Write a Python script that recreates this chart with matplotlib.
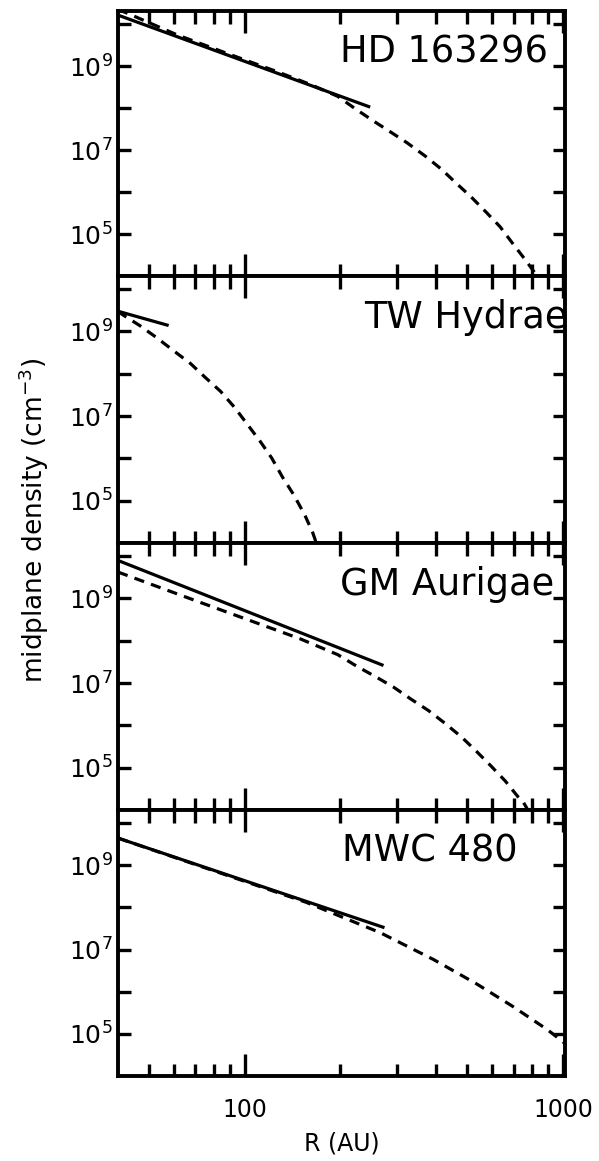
import numpy as np
import matplotlib
matplotlib.use("Agg")
import matplotlib.pyplot as plt

# radius (AU) and midplane density (cm^-3)
names = ["HD 163296", "TW Hydrae", "GM Aurigae", "MWC 480"]

hd_solid_r = [40, 248]
hd_solid_n = [1.63e10, 1.05e8]
hd_dash_r = [40, 42.7, 61.4, 88, 126, 160, 196, 223, 254, 287, 324, 369, 415,
             462, 515, 574, 635, 697, 766, 817, 832]
hd_dash_n = [2.2e10, 1.82e10, 5.5e9, 2.0e9, 7.4e8, 3.7e8, 1.9e8, 9.5e7, 4.9e7,
             2.7e7, 1.48e7, 7.2e6, 3.5e6, 1.62e6, 7.6e5, 3.3e5, 1.48e5, 5.8e4,
             2.3e4, 1.17e4, 1.0e4]

tw_solid_r = [40, 57.7]
tw_solid_n = [3.0e9, 1.38e9]
tw_dash_r = [40, 41.3, 46.8, 52.8, 59.8, 67.6, 75.3, 84.1, 93.1, 102.1, 112.2,
             121.6, 131.5, 142.6, 154.5, 163.7, 167.9]
tw_dash_n = [3.0e9, 2.5e9, 1.38e9, 7.2e8, 3.5e8, 1.74e8, 8.1e7, 3.8e7, 1.58e7,
             6.3e6, 2.45e6, 1.02e6, 3.6e5, 1.38e5, 4.6e4, 1.74e4, 1.0e4]

gm_solid_r = [40, 273]
gm_solid_n = [7.9e9, 2.6e7]
gm_dash_r = [40, 72.4, 149, 196, 226, 258, 293, 331, 378, 424, 479, 533, 594,
             658, 723, 750, 776]
gm_dash_n = [4.2e9, 8.1e8, 1.12e8, 4.7e7, 2.45e7, 1.41e7, 8.1e6, 4.3e6, 2.24e6,
             1.15e6, 5.4e5, 2.5e5, 1.1e5, 4.9e4, 2.04e4, 1.55e4, 1.0e4]

mwc_solid_r = [40, 275]
mwc_solid_n = [4.4e9, 3.3e7]
mwc_dash_r = [40, 156, 267, 392, 538, 698, 893, 1000, 1015]
mwc_dash_n = [4.4e9, 1.32e8, 2.5e7, 5.8e6, 1.5e6, 4.4e5, 1.26e5, 6.5e4, 5.8e4]

solids = [(hd_solid_r, hd_solid_n), (tw_solid_r, tw_solid_n),
          (gm_solid_r, gm_solid_n), (mwc_solid_r, mwc_solid_n)]
dashes = [(hd_dash_r, hd_dash_n), (tw_dash_r, tw_dash_n),
          (gm_dash_r, gm_dash_n), (mwc_dash_r, mwc_dash_n)]
label_x = [0.497, 0.550, 0.497, 0.502]

W, H = 599, 1161
fig = plt.figure(figsize=(W / 100, H / 100), dpi=100)

left, right = 118 / W, 565 / W
edges = [11, 276, 543, 810, 1076]

for i in range(4):
    top = 1 - edges[i] / H
    bot = 1 - edges[i + 1] / H
    ax = fig.add_axes([left, bot, right - left, top - bot])
    ax.set_xscale("log")
    ax.set_yscale("log")
    ax.set_xlim(40, 1015)
    ax.set_ylim(1e4, 10 ** 10.31)

    r, n = solids[i]
    ax.plot(r, n, color="black", lw=2.3, solid_capstyle="butt")
    r, n = dashes[i]
    ax.plot(r, n, color="black", lw=2.3, linestyle=(0, (3.2, 2.3)),
            dash_capstyle="butt", solid_joinstyle="round")

    ax.text(label_x[i], 0.845, names[i], transform=ax.transAxes,
            ha="left", va="center", fontsize=26.5)

    ax.set_yticks([1e5, 1e6, 1e7, 1e8, 1e9, 1e10])
    ax.set_yticklabels(["$10^5$", "", "$10^7$", "", "$10^9$", ""])
    ax.yaxis.set_minor_locator(matplotlib.ticker.NullLocator())

    ax.set_xticks([100, 1000])
    ax.set_xticks([50, 60, 70, 80, 90, 200, 300, 400, 500, 600, 700, 800, 900],
                  minor=True)
    ax.xaxis.set_minor_formatter(matplotlib.ticker.NullFormatter())
    if i == 3:
        ax.set_xticklabels(["100", "1000"])
        ax.set_xlabel("R (AU)", fontsize=17, labelpad=7)
    else:
        ax.set_xticklabels([])

    ax.tick_params(axis="both", which="both", direction="in",
                   top=True, right=True, width=2.4, labelsize=17)
    ax.tick_params(axis="y", which="major", length=9, pad=4, labelsize=18)
    ax.tick_params(axis="x", which="major", length=16, pad=16)
    ax.tick_params(axis="x", which="minor", length=9)
    for s in ax.spines.values():
        s.set_linewidth(2.8)

fig.text(0.056, 0.552, "midplane density (cm$^{-3}$)", rotation=90,
         ha="center", va="center", fontsize=19)

fig.savefig("out.png", dpi=100)
